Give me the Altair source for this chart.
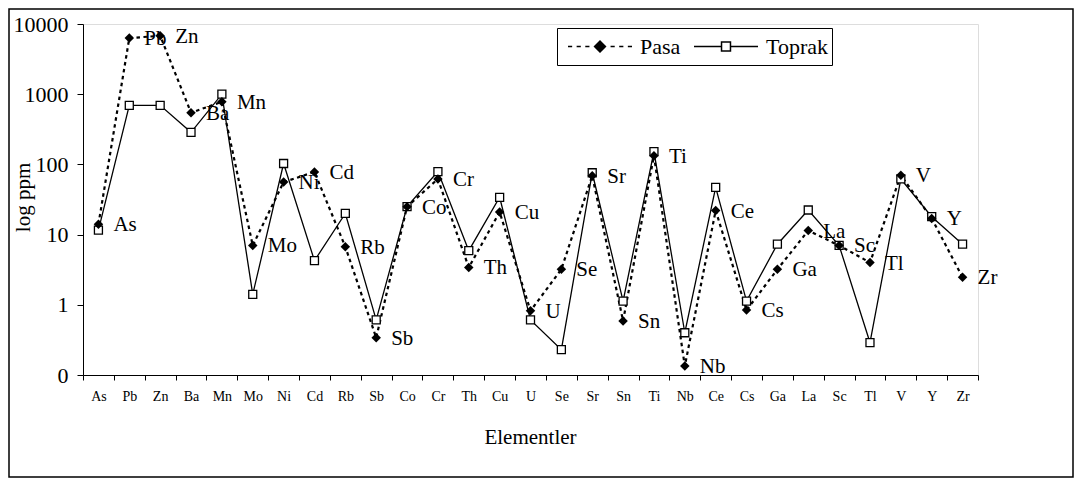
import altair as alt
import pandas as pd

elements = ["As", "Pb", "Zn", "Ba", "Mn", "Mo", "Ni", "Cd", "Rb", "Sb", "Co", "Cr", "Th", "Cu", "U",
            "Se", "Sr", "Sn", "Ti", "Nb", "Ce", "Cs", "Ga", "La", "Sc", "Tl", "V", "Y", "Zr"]
pasa = [14, 6300, 6800, 545, 780, 7.0, 56, 78, 6.7, 0.34, 25, 62, 3.4, 21, 0.82, 3.2, 69, 0.59,
        133, 0.134, 22, 0.84, 3.2, 11.4, 7.0, 4.0, 70, 17, 2.46]
toprak = [11.6, 695, 695, 286, 1000, 1.41, 103, 4.25, 20, 0.61, 25, 79, 5.9, 34, 0.61, 0.23, 76,
          1.13, 152, 0.40, 47, 1.13, 7.3, 22.4, 7.0, 0.29, 62, 18, 7.3]
series_names = ["Pasa", "Toprak"]
y_ticks = [0.1, 1, 10, 100, 1000, 10000]

FONT = "Liberation Serif"

df_p = pd.DataFrame({"el": elements, "val": pasa, "series": "Pasa"})
df_t = pd.DataFrame({"el": elements, "val": toprak, "series": "Toprak"})

x_enc = alt.X(
    "el:N", sort=elements, bandPosition=0.5,
    scale=alt.Scale(type="band", paddingInner=0, paddingOuter=0),
    axis=alt.Axis(title="Elementler", tickBand="extent", labelAngle=0, labelFontSize=14,
                  labelPadding=9, tickSize=5, titleFontSize=21, titleFontWeight="normal",
                  titleX=447, titleY=62, titleBaseline="middle", titleAlign="center",
                  domainColor="black", tickColor="black", labelColor="black", titleColor="black"),
)
y_enc = alt.Y(
    "val:Q",
    scale=alt.Scale(type="log", domain=[0.1, 10000]),
    axis=alt.Axis(title="log ppm", values=y_ticks,
                  labelExpr="datum.value < 0.5 ? '0' : format(datum.value, 'd')",
                  labelFontSize=22, labelPadding=9, tickSize=6, grid=False,
                  titleFontSize=21, titleFontWeight="normal", titleAngle=270,
                  titleX=-60, titleY=173, titleBaseline="middle", titleAlign="center",
                  domainColor="black", tickColor="black", labelColor="black", titleColor="black"),
)

line_t = alt.Chart(df_t).mark_line(color="black", strokeWidth=1.3).encode(x=x_enc, y=y_enc)
line_p = alt.Chart(df_p).mark_line(color="black", strokeWidth=2.2, strokeDash=[3.5, 3.5]).encode(x=x_enc, y=y_enc)
pts_t = alt.Chart(df_t).mark_point(shape="square", filled=True, fill="white", stroke="black",
                                   strokeWidth=1.3, size=64, opacity=1).encode(x=x_enc, y=y_enc)
pts_p = alt.Chart(df_p).mark_point(shape="diamond", filled=True, color="black", size=90,
                                   opacity=1).encode(x=x_enc, y=y_enc)
labels = alt.Chart(df_p).mark_text(align="left", baseline="middle", dx=15, dy=1, fontSize=21,
                                   font=FONT, color="black").encode(x=x_enc, y=y_enc, text="el:N")

# legend-only layer (draws no marks)
path_pasa = ("M-1,0L-0.87,0M-0.73,0L-0.6,0M-0.46,0L-0.33,0"
             "M-0.17,0L0,-0.17L0.17,0L0,0.17Z"
             "M0.33,0L0.46,0M0.6,0L0.73,0M0.87,0L1,0")
path_toprak = "M-1,0L-0.14,0M-0.14,-0.14L0.14,-0.14L0.14,0.14L-0.14,0.14ZM0.14,0L1,0"
leg = alt.Legend(title=None, orient="none", legendX=474, legendY=4, direction="horizontal",
                 labelFontSize=22, labelFont=FONT, labelColor="black", labelOffset=7,
                 columnPadding=6, padding=4, symbolOffset=6, clipHeight=29,
                 strokeColor="black", symbolStrokeWidth=1.5, symbolOpacity=1,
                 symbolSize=4096, gridAlign="each")
legend_layer = alt.Chart(df_p).transform_filter("false").mark_point(
    filled=True, size=4096, strokeWidth=1.5, opacity=1
).encode(
    x=x_enc, y=y_enc,
    shape=alt.Shape("series:N", scale=alt.Scale(domain=series_names, range=[path_pasa, path_toprak]), legend=leg),
    fill=alt.Fill("series:N", scale=alt.Scale(domain=series_names, range=["black", "white"]), legend=leg),
    stroke=alt.Stroke("series:N", scale=alt.Scale(domain=series_names, range=["black", "black"]), legend=leg),
)

frame_df = pd.DataFrame({"k": [0]})
frame = alt.Chart(frame_df).mark_rect(fill=None, stroke="black", strokeWidth=1.5).encode(
    x=alt.value(-74), x2=alt.value(990), y=alt.value(-15), y2=alt.value(453)
)

chart = alt.layer(frame, line_t, line_p, pts_t, pts_p, labels, legend_layer).properties(
    width=895, height=351,
    autosize="none",
    padding={"left": 75, "top": 16, "right": 97, "bottom": 103},
    background="white",
).configure_view(stroke=None).configure(font=FONT).configure_legend(labelFont=FONT)

chart.save("out.html", embed_options={"renderer": "svg", "actions": False})
